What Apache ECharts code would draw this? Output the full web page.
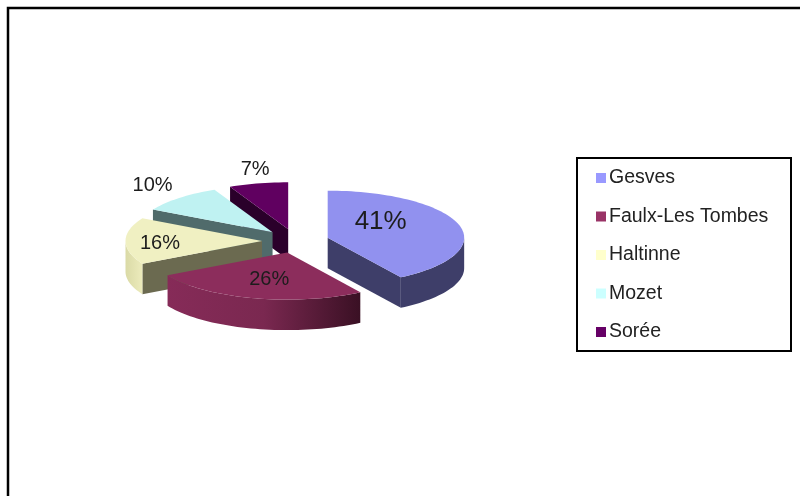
<!DOCTYPE html>
<html>
<head>
<meta charset="utf-8">
<script src="https://cdn.jsdelivr.net/npm/echarts@6/dist/echarts.min.js"></script>
<style>html,body{margin:0;padding:0;background:#fff}#c{width:800px;height:496px}</style>
</head>
<body>
<div id="c"></div>
<script>
// data
var categories = ['Gesves', 'Faulx-Les Tombes', 'Haltinne', 'Mozet', 'Sorée'];
var values = [41, 26, 16, 10, 7];

// styles
var topColors = ['#9191ef', '#8c2d5c', '#f0f0c2', '#bff2f2', '#600060'];
var legendColors = ['#9999ff', '#993366', '#ffffcc', '#ccffff', '#660066'];
var faceColors = ['#3e3e69', '#5c1d3c', '#6b6a50', '#506b6b', '#2a002a'];
var arcStops = [['#3e3e69', '#3e3e69'], ['#862b58', '#7a2850', '#3a1024'], ['#dadaa6', '#ecebbc'], ['#506b6b', '#506b6b'], ['#2a002a', '#2a002a']];
var labelDX = [53, -18, -102, -120, -33];
var labelDY = [-16, 27, 2, -47, -60];
var labelSizes = [26, 20, 20, 20, 20];
var layerZ = [4, 5, 3, 2, 1];

// pie layout
var CX = 295.5, CY = 241, RX = 136.5, RY = 47, DEPTH = 30.5, EX = 33.5, EY = 12;
var total = values.reduce(function (a, b) { return a + b; }, 0);
var FONT = '"Liberation Sans", Arial, sans-serif';
var RAD = Math.PI / 180;

function arc(ox, oy, a, b) {
  var pts = [], n = Math.max(2, Math.ceil(Math.abs(b - a) / 2));
  for (var i = 0; i <= n; i++) {
    var t = (a + (b - a) * i / n) * RAD;
    pts.push([ox + RX * Math.sin(t), oy - RY * Math.cos(t)]);
  }
  return pts;
}
function shift(pts) { return pts.map(function (p) { return [p[0], p[1] + DEPTH]; }).reverse(); }

function renderSlice(idx) {
  return function (params, api) {
    var v = api.value(0);
    var start = 0;
    for (var i = 0; i < idx; i++) start += values[i];
    var a = start / total * 360, b = a + v / total * 360;
    var mid = (a + b) / 2 * RAD;
    var ox = CX + EX * Math.sin(mid), oy = CY - EY * Math.cos(mid);
    var children = [];

    function face(angle) {
      var t = angle * RAD;
      var edge = [ox + RX * Math.sin(t), oy - RY * Math.cos(t)];
      children.push({ type: 'polygon', silent: true,
        shape: { points: [[ox, oy], edge, [edge[0], edge[1] + DEPTH], [ox, oy + DEPTH]] },
        style: { fill: faceColors[idx] } });
    }
    // cut faces turned towards the viewer
    if (Math.cos((a - 90) * RAD) < -0.001) face(a);
    if (Math.cos((b + 90) * RAD) < -0.001) face(b);
    // outer wall: only the front half of the rim
    var fa = Math.max(a, 90), fb = Math.min(b, 270);
    if (fb > fa) {
      var top = arc(ox, oy, fa, fb);
      var stops = arcStops[idx];
      children.push({ type: 'polygon', silent: true,
        shape: { points: top.concat(shift(top)) },
        style: { fill: { type: 'linear', x: 0, y: 0, x2: 1, y2: 0,
          colorStops: stops.map(function (c, k) { return { offset: k / (stops.length - 1), color: c }; }) } } });
    }
    // top surface
    children.push({ type: 'polygon', silent: true,
      shape: { points: [[ox, oy]].concat(arc(ox, oy, a, b)) },
      style: { fill: topColors[idx] } });
    // percentage label
    children.push({ type: 'text', silent: true, z2: 10,
      x: ox + labelDX[idx], y: oy + labelDY[idx],
      style: { text: Math.round(v / total * 100) + '%', fontSize: labelSizes[idx], fontFamily: FONT,
        fill: '#1c1c1c', align: 'center', verticalAlign: 'middle' } });
    return { type: 'group', children: children };
  };
}

var series = categories.map(function (name, i) {
  return {
    type: 'custom', name: name, coordinateSystem: 'none', z: layerZ[i],
    renderItem: renderSlice(i), data: [[values[i]]], silent: true,
    itemStyle: { color: legendColors[i] }
  };
});

var chart = echarts.init(document.getElementById('c'), null, { renderer: 'canvas' });
chart.setOption({
  animation: false,
  backgroundColor: '#ffffff',
  tooltip: { show: false },
  legend: {
    data: categories, orient: 'vertical', left: 596, top: 168, padding: 0,
    icon: 'rect', itemWidth: 10, itemHeight: 10, itemGap: 18.5,
    selectedMode: false, formatter: function (n) { return n; },
    textStyle: { fontSize: 19.5, lineHeight: 20, color: '#222222', fontFamily: FONT, padding: [0, 0, 0, -2] }
  },
  graphic: [
    { type: 'polyline', silent: true, z: 0, shape: { points: [[8, 496], [8, 8], [800, 8]] },
      style: { fill: null, stroke: '#000000', lineWidth: 2.5 } },
    { type: 'rect', silent: true, z: 0, shape: { x: 577, y: 158, width: 214, height: 193 },
      style: { fill: '#ffffff', stroke: '#000000', lineWidth: 2 } }
  ],
  series: series
});
</script>
</body>
</html>
